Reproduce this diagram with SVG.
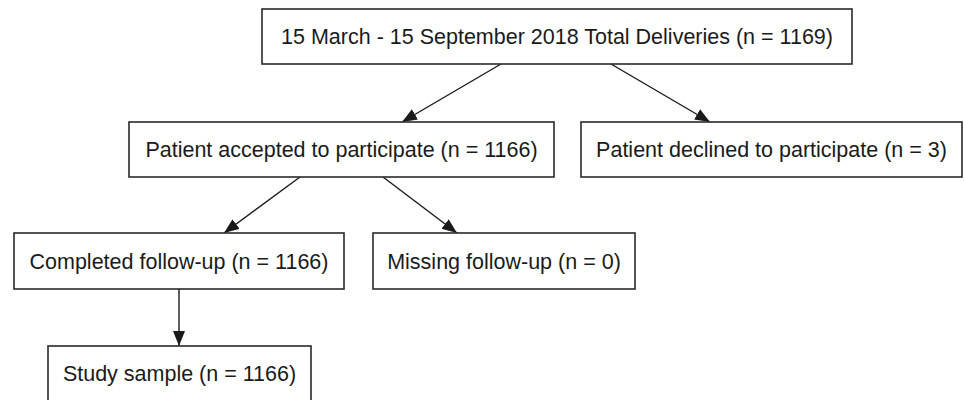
<svg xmlns="http://www.w3.org/2000/svg" width="964" height="400" viewBox="0 0 964 400">
<style>
.box{fill:#fff;stroke:#2a2a2a;stroke-width:1.6}
.lbl{font-family:"Liberation Sans",Arial,sans-serif;font-size:21.5px;fill:#1a1a1a;text-anchor:middle}
.edge{stroke:#1a1a1a;stroke-width:1.4;fill:none;marker-end:url(#ah)}
</style>
<defs>
<marker id="ah" markerUnits="userSpaceOnUse" markerWidth="16" markerHeight="13" refX="15" refY="6" orient="auto">
<path d="M0,0 L15,6 L0,12 z" fill="#1a1a1a"/>
</marker>
</defs>
<rect width="964" height="400" fill="#fff"/>
<g id="connectors">
<line class="edge" x1="501" y1="64" x2="402" y2="122"/>
<line class="edge" x1="611" y1="64" x2="710" y2="122"/>
<line class="edge" x1="300" y1="177" x2="224" y2="233"/>
<line class="edge" x1="383" y1="177" x2="457" y2="233"/>
<line class="edge" x1="179" y1="289" x2="179" y2="346"/>
</g>
<g id="total">
<rect class="box" x="262" y="9" width="590" height="55"/>
<text class="lbl" x="557" y="44">15 March - 15 September 2018 Total Deliveries (n = 1169)</text>
</g>
<g id="accepted">
<rect class="box" x="129" y="122" width="425" height="55"/>
<text class="lbl" x="341.5" y="157">Patient accepted to participate (n = 1166)</text>
</g>
<g id="declined">
<rect class="box" x="581" y="122" width="381" height="55"/>
<text class="lbl" x="771.5" y="157">Patient declined to participate (n = 3)</text>
</g>
<g id="completed">
<rect class="box" x="14" y="233" width="330" height="56"/>
<text class="lbl" x="179" y="269">Completed follow-up (n = 1166)</text>
</g>
<g id="missing">
<rect class="box" x="373" y="233" width="262" height="56"/>
<text class="lbl" x="504" y="269">Missing follow-up (n = 0)</text>
</g>
<g id="study">
<rect class="box" x="48" y="346" width="263" height="56"/>
<text class="lbl" x="179.5" y="381">Study sample (n = 1166)</text>
</g>
</svg>
